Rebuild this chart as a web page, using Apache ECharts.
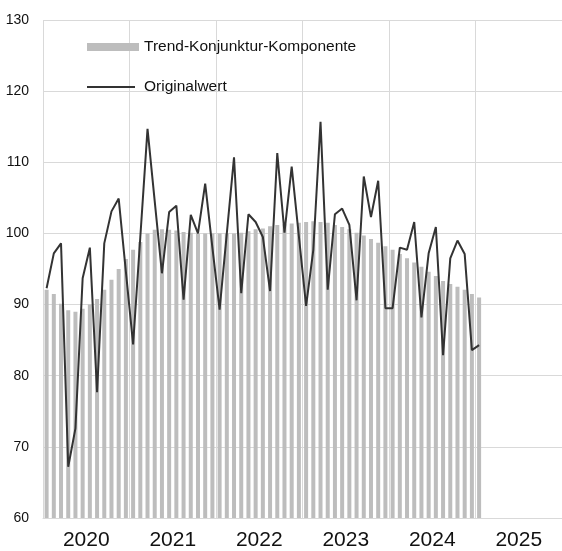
<!DOCTYPE html>
<html>
<head>
<meta charset="utf-8">
<script src="https://cdn.jsdelivr.net/npm/echarts@6/dist/echarts.min.js"></script>
<style>
	html, body { margin: 0; padding: 0; background: #fff; }
	#chart { width: 562px; height: 551px; }
</style>
</head>
<body>
<div id="chart"></div>
<script>
var years = ['2020', '2021', '2022', '2023', '2024', '2025'];
// Trend-Konjunktur-Komponente, monatlich ab Jan 2020
var trend = [
	92.1, 91.5, 90.1, 89.2, 89.0, 89.4, 90.0, 90.8, 92.1, 93.5, 95.0, 96.4,
	97.7, 98.8, 100.0, 100.5, 100.6, 100.5, 100.4, 100.2, 100.1, 100.0, 100.0, 100.0,
	100.0, 100.0, 100.0, 100.1, 100.3, 100.6, 100.7, 101.0, 101.2, 101.3, 101.4, 101.5,
	101.6, 101.7, 101.6, 101.5, 101.2, 100.9, 100.6, 100.1, 99.7, 99.2, 98.7, 98.2,
	97.7, 97.1, 96.5, 95.9, 95.3, 94.6, 94.0, 93.3, 92.9, 92.5, 92.1, 91.5,
	91.0
];
// Originalwert
var original = [
	92.3, 97.2, 98.6, 67.2, 72.6, 93.7, 98.0, 77.7, 98.6, 103.1, 104.9, 94.6,
	84.4, 99.5, 114.7, 104.5, 94.4, 103.0, 103.9, 90.7, 102.6, 100.0, 107.0, 98.0,
	89.3, 100.0, 110.7, 91.6, 102.7, 101.6, 99.5, 91.9, 111.3, 100.1, 109.4, 99.6,
	89.8, 97.7, 115.7, 92.1, 102.7, 103.5, 101.2, 90.6, 108.0, 102.3, 107.4, 89.5,
	89.5, 98.0, 97.7, 101.6, 88.2, 97.2, 100.9, 82.9, 96.5, 99.0, 97.1, 83.6,
	84.3
];

// Monatskategorien aus den Jahren
var months = [];
for (var i = 0; i < years.length; i++) {
	for (var m = 1; m <= 12; m++) {
		months.push(years[i] + '-' + (m < 10 ? '0' + m : m));
	}
}

var font = "'Liberation Sans', Arial, sans-serif";
var chart = echarts.init(document.getElementById('chart'));
chart.setOption({
	animation: false,
	backgroundColor: '#fff',
	grid: { left: 43, right: -5, top: 20, bottom: 29.4 },
	legend: [{
		data: [{ name: 'Trend-Konjunktur-Komponente', icon: 'rect' }],
		left: 82, top: 32,
		itemWidth: 52, itemHeight: 8,
		textStyle: { fontFamily: font, fontSize: 15.5, color: '#111', lineHeight: 20 }
	}, {
		data: [{ name: 'Originalwert', icon: 'rect', itemStyle: { color: '#333333' } }],
		left: 82, top: 72,
		itemWidth: 48, itemHeight: 2,
		textStyle: { fontFamily: font, fontSize: 15.5, color: '#111', lineHeight: 20, padding: [0, 0, 0, 4] }
	}],
	xAxis: [{
		type: 'category',
		data: years,
		boundaryGap: true,
		axisLine: { show: true, lineStyle: { color: '#d9d9d9', width: 1 } },
		axisTick: { show: false },
		axisLabel: { fontFamily: font, fontSize: 21, color: '#111', margin: 12 },
		splitLine: { show: true, lineStyle: { color: '#d9d9d9', width: 1 } }
	}, {
		type: 'category',
		data: months,
		boundaryGap: true,
		show: false
	}],
	yAxis: {
		type: 'value',
		min: 60,
		max: 130,
		interval: 10,
		axisLine: { show: false },
		axisTick: { show: false },
		axisLabel: { fontFamily: font, fontSize: 14, color: '#111', margin: 14 },
		splitLine: { show: true, lineStyle: { color: '#d9d9d9', width: 1 } }
	},
	series: [{
		name: 'Trend-Konjunktur-Komponente',
		type: 'bar',
		xAxisIndex: 1,
		data: trend,
		barWidth: 4,
		itemStyle: { color: '#bdbdbd' }
	}, {
		name: 'Originalwert',
		type: 'line',
		xAxisIndex: 1,
		data: original,
		symbol: 'none',
		lineStyle: { color: '#333333', width: 2 },
		itemStyle: { color: '#333333' }
	}]
});
</script>
</body>
</html>
